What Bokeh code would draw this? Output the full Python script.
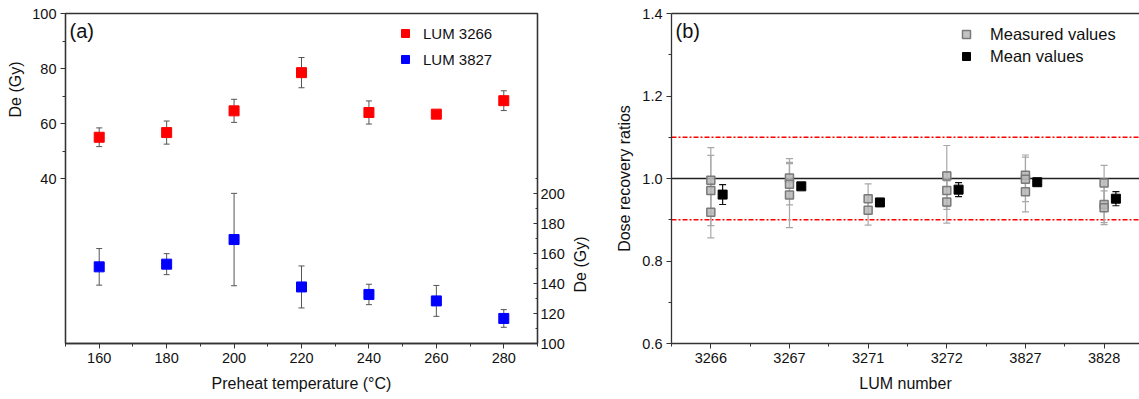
import math
from bokeh.plotting import figure
from bokeh.models import (Range1d, LinearAxis, FixedTicker, Whisker, TeeHead, ColumnDataSource,
                          Legend, LegendItem, Span, Label, Title, NumeralTickFormatter)
from bokeh.layouts import row
from bokeh.embed import file_html
from bokeh.resources import INLINE

FONT = "Liberation Sans"
TXT = "#111111"
LINE = "#333333"

# ---------------- data: panel (a) ----------------
temps = [160, 180, 200, 220, 240, 260, 280]
de_3266 = [55.0, 56.7, 64.6, 78.5, 64.0, 63.4, 68.3]
err_3266 = [3.4, 4.2, 4.2, 5.5, 4.2, 1.0, 3.6]
de_3827 = [151.1, 152.9, 169.3, 137.7, 132.7, 128.4, 116.7]
err_3827 = [12.2, 7.0, 30.8, 14.0, 6.8, 10.3, 5.9]

x_ticks_a = [160, 180, 200, 220, 240, 260, 280]
x_minor_a = [150, 170, 190, 210, 230, 250, 270, 290]
y_ticks_left = [40, 60, 80, 100]
y_minor_left = [50, 70, 90]
y_ticks_right = [100, 120, 140, 160, 180, 200]
y_minor_right = [110, 130, 150, 170, 190, 210]

# ---------------- data: panel (b) ----------------
lum_numbers = ["3266", "3267", "3271", "3272", "3827", "3828"]
meas_group = [0, 0, 0, 1, 1, 1, 2, 2, 3, 3, 3, 4, 4, 4, 5, 5, 5]
meas_ratio = [0.996, 0.971, 0.918, 1.001, 0.986, 0.960, 0.951, 0.923,
              1.006, 0.971, 0.943, 1.008, 0.998, 0.968, 0.989, 0.937, 0.929]
meas_err = [0.079, 0.085, 0.062, 0.047, 0.050, 0.079, 0.036, 0.036,
            0.074, 0.046, 0.051, 0.049, 0.054, 0.049, 0.043, 0.044, 0.041]
mean_ratio = [0.961, 0.981, 0.942, 0.973, 0.991, 0.951]
mean_err = [0.024, 0.006, 0.005, 0.017, 0.006, 0.017]
mean_shift = 0.15
ratio_ticks = [0.6, 0.8, 1.0, 1.2, 1.4]
ratio_minor = [0.7, 0.9, 1.1, 1.3]
ref_lines = [1.0, 1.1, 0.9]

DE_LABEL = "De (Gy)"


def style_axis(ax, tick_out=5, tick_in=0, minor_out=3, minor_in=0):
    ax.axis_line_color = LINE
    ax.axis_line_width = 1.3
    ax.major_tick_line_color = LINE
    ax.minor_tick_line_color = LINE
    ax.major_tick_out = tick_out
    ax.major_tick_in = tick_in
    ax.minor_tick_out = minor_out
    ax.minor_tick_in = minor_in
    ax.major_label_text_font = FONT
    ax.major_label_text_font_size = "14.5px"
    ax.major_label_text_color = TXT
    ax.major_label_standoff = 4
    ax.axis_label_text_font = FONT
    ax.axis_label_text_font_size = "16px"
    ax.axis_label_text_font_style = "normal"
    ax.axis_label_text_color = TXT
    ax.axis_label_standoff = 9


def side_title(text, offset, standoff):
    return Title(text=text, align="left", offset=offset, vertical_align="middle",
                 standoff=standoff, text_font=FONT, text_font_size="16px",
                 text_font_style="normal", text_color=TXT)


# ================= panel (a) =================
pa = figure(width=568, height=399, x_range=Range1d(150, 290), y_range=Range1d(-20, 100),
            output_backend="svg", toolbar_location=None,
            min_border_left=65, min_border_right=31, min_border_top=13, min_border_bottom=56)
pa.grid.visible = False
pa.outline_line_color = LINE
pa.outline_line_width = 1.3
pa.background_fill_color = "white"
pa.border_fill_color = "white"
pa.extra_y_ranges = {"right": Range1d(100, 320)}

pa.xaxis.ticker = FixedTicker(ticks=x_ticks_a, minor_ticks=x_minor_a)
pa.yaxis.ticker = FixedTicker(ticks=y_ticks_left, minor_ticks=y_minor_left)
style_axis(pa.xaxis[0])
style_axis(pa.yaxis[0])
pa.xaxis.axis_label = "Preheat temperature (°C)"

rax = LinearAxis(y_range_name="right",
                 ticker=FixedTicker(ticks=y_ticks_right, minor_ticks=y_minor_right))
style_axis(rax, tick_out=0, tick_in=4, minor_out=0, minor_in=2)
rax.major_label_standoff = 3
pa.add_layout(rax, "right")

# left "De (Gy)" label placed along the upper part of the left axis
pa.add_layout(side_title(DE_LABEL, 226, 10), "left")

src_r = ColumnDataSource(dict(x=temps, y=de_3266,
                              up=[v + e for v, e in zip(de_3266, err_3266)],
                              lo=[v - e for v, e in zip(de_3266, err_3266)]))
src_b = ColumnDataSource(dict(x=temps, y=de_3827,
                              up=[v + e for v, e in zip(de_3827, err_3827)],
                              lo=[v - e for v, e in zip(de_3827, err_3827)]))

for src, rng in ((src_r, "default"), (src_b, "right")):
    w = Whisker(source=src, base="x", upper="up", lower="lo", dimension="height",
                line_color="#555555", line_width=1, level="underlay", y_range_name=rng,
                upper_head=TeeHead(size=6, line_color="#555555", line_width=1),
                lower_head=TeeHead(size=6, line_color="#555555", line_width=1))
    pa.add_layout(w)

r_red = pa.scatter("x", "y", source=src_r, marker="square", size=10,
                   fill_color="#ff0000", line_color="#ff0000")
r_blue = pa.scatter("x", "y", source=src_b, marker="square", size=10, y_range_name="right",
                    fill_color="#0000ff", line_color="#0000ff")

leg_a = Legend(items=[LegendItem(label="LUM 3266", renderers=[r_red]),
                      LegendItem(label="LUM 3827", renderers=[r_blue])],
               location=(330, 274), glyph_width=20, glyph_height=20, label_standoff=8,
               spacing=6, padding=0, margin=0, border_line_color=None,
               background_fill_alpha=0, label_text_font=FONT,
               label_text_font_size="15px", label_text_color=TXT)
pa.add_layout(leg_a)

pa.add_layout(Label(x=150, y=100, x_offset=4, y_offset=-6, text="(a)", text_font=FONT,
                    text_font_size="20px", text_color=TXT, text_baseline="top"))

# ================= panel (b) =================
pb = figure(width=571, height=399, x_range=Range1d(0.5, 6.45), y_range=Range1d(0.6, 1.4),
            output_backend="svg", toolbar_location=None,
            min_border_left=103, min_border_right=0, min_border_top=13, min_border_bottom=56)
pb.grid.visible = False
pb.outline_line_color = None
pb.background_fill_color = "white"
pb.border_fill_color = "white"

pb.xaxis.ticker = FixedTicker(ticks=[i + 1 for i in range(len(lum_numbers))],
                              minor_ticks=[i + 0.5 for i in range(len(lum_numbers) + 1)])
pb.xaxis.major_label_overrides = {i + 1: s for i, s in enumerate(lum_numbers)}
pb.yaxis.ticker = FixedTicker(ticks=ratio_ticks, minor_ticks=ratio_minor)
pb.yaxis.formatter = NumeralTickFormatter(format="0.0")
style_axis(pb.xaxis[0])
style_axis(pb.yaxis[0])
pb.yaxis.axis_label_standoff = 6
pb.xaxis.axis_label = "LUM number"
pb.yaxis.axis_label = "Dose recovery ratios"

# gap, then the right-hand "De (Gy)" label of panel (a) between the two panels
pb.add_layout(Title(text=" ", standoff=5, text_font=FONT, text_font_size="16px"), "left")
pb.add_layout(side_title(DE_LABEL, 51, 0), "left")

top_ax = LinearAxis(major_tick_line_color=None, minor_tick_line_color=None,
                    major_label_text_font_size="0px", axis_line_color=LINE, axis_line_width=1.3)
top_ax.major_label_text_alpha = 0
pb.add_layout(top_ax, "above")

pb.add_layout(Span(location=ref_lines[0], dimension="width", line_color="#222222",
                   line_width=1.5, level="underlay"))
for loc in ref_lines[1:]:
    pb.add_layout(Span(location=loc, dimension="width", line_color="#ff0000",
                       line_width=1.5, line_dash="5 2 2 2", level="underlay"))

src_m = ColumnDataSource(dict(x=[g + 1 for g in meas_group], y=meas_ratio,
                              up=[v + e for v, e in zip(meas_ratio, meas_err)],
                              lo=[v - e for v, e in zip(meas_ratio, meas_err)]))
src_mean = ColumnDataSource(dict(x=[i + 1 + mean_shift for i in range(len(mean_ratio))],
                                 y=mean_ratio,
                                 up=[v + e for v, e in zip(mean_ratio, mean_err)],
                                 lo=[v - e for v, e in zip(mean_ratio, mean_err)]))

pb.add_layout(Whisker(source=src_m, base="x", upper="up", lower="lo", dimension="height",
                      line_color="#a8a8a8", line_width=1.2, level="underlay",
                      upper_head=TeeHead(size=7, line_color="#a8a8a8", line_width=1.2),
                      lower_head=TeeHead(size=7, line_color="#a8a8a8", line_width=1.2)))
pb.add_layout(Whisker(source=src_mean, base="x", upper="up", lower="lo", dimension="height",
                      line_color="#111111", line_width=1.2, level="underlay",
                      upper_head=TeeHead(size=7, line_color="#111111", line_width=1.2),
                      lower_head=TeeHead(size=7, line_color="#111111", line_width=1.2)))

r_meas = pb.scatter("x", "y", source=src_m, marker="square", size=8,
                    fill_color="#b8b8b8", fill_alpha=0.85, line_color="#7a7a7a", line_width=1.5)
r_mean = pb.scatter("x", "y", source=src_mean, marker="square", size=9,
                    fill_color="#000000", line_color="#000000")

leg_b = Legend(items=[LegendItem(label="Measured values", renderers=[r_meas]),
                      LegendItem(label="Mean values", renderers=[r_mean])],
               location=(285, 277), glyph_width=20, glyph_height=20, label_standoff=14,
               spacing=2, padding=0, margin=0, border_line_color=None,
               background_fill_alpha=0, label_text_font=FONT,
               label_text_font_size="16.5px", label_text_color=TXT)
pb.add_layout(leg_b)

pb.add_layout(Label(x=0.5, y=1.4, x_offset=4, y_offset=-6, text="(b)", text_font=FONT,
                    text_font_size="20px", text_color=TXT, text_baseline="top"))

layout = row(pa, pb)
open("out.html", "w").write(file_html(layout, INLINE))
